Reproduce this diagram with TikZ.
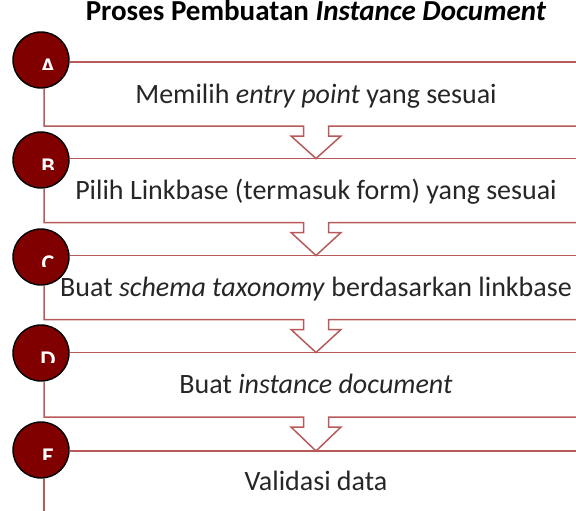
\documentclass[tikz,border=0pt]{standalone}
\usepackage{fontspec}
\setmainfont{Carlito}
\definecolor{lnred}{RGB}{185,90,90}
\definecolor{circred}{RGB}{128,0,0}
\begin{document}
\begin{tikzpicture}[x=1pt,y=-1pt,
  stepline/.style={draw=lnred,line width=1.5pt},
  stepcirc/.style={circle,fill=circred,draw=black,line width=1.4pt,minimum size=56pt,inner sep=0pt},
  steptext/.style={anchor=base,font=\fontsize{28}{30}\selectfont,text=black!85,inner sep=0pt},
  letter/.style={anchor=base,font=\fontsize{24}{26}\selectfont\bfseries,text=white,inner sep=0pt}]
\useasboundingbox (0,0) rectangle (576,511);
\node[anchor=base,font=\fontsize{29}{32}\selectfont\bfseries,inner sep=0pt] (title) at (316,21) {Proses Pembuatan \textit{Instance Document}};
\def\stepbox#1#2#3#4{%
  % #1 name, #2 circle center y, #3 top line y, #4 letter
  \node[stepcirc] (c#1) at (41,#2) {};
  \begin{scope}
    \clip (20,#2-20) rectangle (70,#2+9.5);
    \node[letter] (l#1) at (48,#2+14.5) {#4};
  \end{scope}
  \coordinate (t#1) at (576,#3);
  \draw[stepline] (c#1.east |- 0,#3) -- (t#1);
}
\stepbox{A}{60}{62}{A}
\stepbox{B}{160}{158.5}{B}
\stepbox{C}{257}{255.5}{C}
\stepbox{D}{353}{352.5}{D}
\stepbox{E}{450}{451}{E}
\def\bottomline#1#2#3{%
  % #1 name of circle, #2 bottom y, #3 next top y
  \coordinate (b#1) at (576,#2);
  \draw[stepline,line join=miter] (c#1.south -| 44,0) -- (44,#2) -- (303.5,#2) -- (303.5,#2+10) -- (291,#2+10) -- (316,#3) -- (341,#2+10) -- (328.5,#2+10) -- (328.5,#2) -- (b#1);
}
\bottomline{A}{126}{158.5}
\bottomline{B}{222.5}{255.5}
\bottomline{C}{319.5}{352.5}
\bottomline{D}{417}{451}
\coordinate (endE) at (44,511);
\draw[stepline] (cE.south -| 44,0) -- (endE);
\node[steptext] (xA) at (316,103) {Memilih \textit{entry point} yang sesuai};
\node[steptext] (xB) at (316,199.5) {Pilih Linkbase (termasuk form) yang sesuai};
\node[steptext] (xC) at (316,296.5) {Buat \textit{schema taxonomy} berdasarkan linkbase};
\node[steptext] (xD) at (316,393) {Buat \textit{instance document}};
\node[steptext] (xE) at (316,490) {Validasi data};
\end{tikzpicture}
\end{document}
